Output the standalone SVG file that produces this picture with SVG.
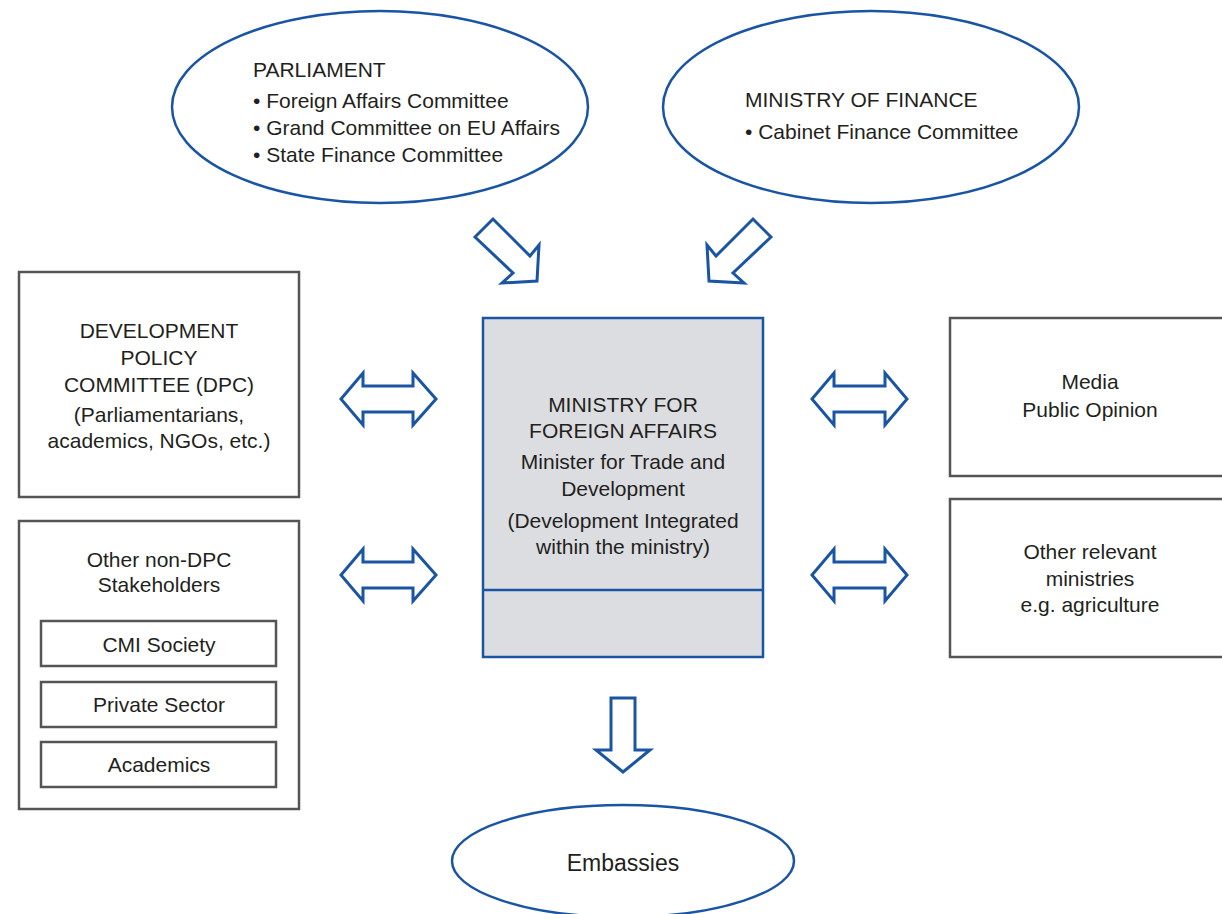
<svg xmlns="http://www.w3.org/2000/svg" width="1222" height="914" viewBox="0 0 1222 914">
  <style>
    .t { font-family: "Liberation Sans", Arial, sans-serif; font-size: 21px; fill: #231f20; }
    .c { text-anchor: middle; }
    .ell { fill: #ffffff; stroke: #1a55a3; stroke-width: 2.5; }
    .box { fill: #ffffff; stroke: #555555; stroke-width: 2.5; }
    .main { fill: #dcdde0; stroke: #1a55a3; stroke-width: 2.5; }
    .arr { fill: #ffffff; stroke: #1a55a3; stroke-width: 3; stroke-linejoin: miter; }
  </style>
  <rect width="1222" height="914" fill="#ffffff"/>

  <!-- Parliament -->
  <g id="parliament">
    <ellipse class="ell" cx="380" cy="107" rx="208" ry="96"/>
    <text class="t" x="253" y="77">PARLIAMENT</text>
    <text class="t" x="253" y="108">• Foreign Affairs Committee</text>
    <text class="t" x="253" y="135">• Grand Committee on EU Affairs</text>
    <text class="t" x="253" y="162">• State Finance Committee</text>
  </g>

  <!-- Ministry of Finance -->
  <g id="finance">
    <ellipse class="ell" cx="871" cy="107" rx="208" ry="96"/>
    <text class="t" x="745" y="107">MINISTRY OF FINANCE</text>
    <text class="t" x="745" y="139">• Cabinet Finance Committee</text>
  </g>

  <!-- Development Policy Committee -->
  <g id="dpc">
    <rect class="box" x="19" y="272" width="280" height="225"/>
    <text class="t c" x="159" y="338">DEVELOPMENT</text>
    <text class="t c" x="159" y="365">POLICY</text>
    <text class="t c" x="159" y="392">COMMITTEE (DPC)</text>
    <text class="t c" x="159" y="422">(Parliamentarians,</text>
    <text class="t c" x="159" y="448">academics, NGOs, etc.)</text>
  </g>

  <!-- Other stakeholders -->
  <g id="stakeholders">
    <rect class="box" x="19" y="521" width="280" height="288"/>
    <text class="t c" x="159" y="567">Other non-DPC</text>
    <text class="t c" x="159" y="592">Stakeholders</text>
    <rect class="box" x="41" y="621" width="235" height="45"/>
    <text class="t c" x="159" y="652">CMI Society</text>
    <rect class="box" x="41" y="682" width="235" height="45"/>
    <text class="t c" x="159" y="712">Private Sector</text>
    <rect class="box" x="41" y="742" width="235" height="45"/>
    <text class="t c" x="159" y="772">Academics</text>
  </g>

  <!-- Ministry for Foreign Affairs -->
  <g id="mfa">
    <rect class="main" x="483" y="318" width="280" height="339"/>
    <line x1="483" y1="590" x2="763" y2="590" stroke="#1a55a3" stroke-width="2.5"/>
    <text class="t c" x="623" y="412">MINISTRY FOR</text>
    <text class="t c" x="623" y="438">FOREIGN AFFAIRS</text>
    <text class="t c" x="623" y="469">Minister for Trade and</text>
    <text class="t c" x="623" y="496">Development</text>
    <text class="t c" x="623" y="528">(Development Integrated</text>
    <text class="t c" x="623" y="554">within the ministry)</text>
  </g>

  <!-- Media -->
  <g id="media">
    <rect class="box" x="950" y="318" width="290" height="158"/>
    <text class="t c" x="1090" y="389">Media</text>
    <text class="t c" x="1090" y="417">Public Opinion</text>
  </g>

  <!-- Other ministries -->
  <g id="ministries">
    <rect class="box" x="950" y="499" width="290" height="158"/>
    <text class="t c" x="1090" y="559">Other relevant</text>
    <text class="t c" x="1090" y="586">ministries</text>
    <text class="t c" x="1090" y="612">e.g. agriculture</text>
  </g>

  <!-- Embassies -->
  <g id="embassies">
    <ellipse class="ell" cx="623" cy="861" rx="171" ry="56"/>
    <text class="t c" x="623" y="871" style="font-size:23px">Embassies</text>
  </g>

  <!-- Block arrows -->
  <g id="connectors">
    <polygon class="arr" points="475,237 493,219 530,256 539,245 537,281 502,283 513,273"/>
    <polygon class="arr" points="771,237 753,219 716,256 707,245 709,281 744,283 733,273"/>
    <polygon class="arr" points="341,399 363,373 363,386 413,386 413,373 436,399 413,425 413,412 363,412 363,425"/>
    <polygon class="arr" points="341,575 363,549 363,562 413,562 413,549 436,575 413,601 413,588 363,588 363,601"/>
    <polygon class="arr" points="812,399 834,373 834,386 885,386 885,373 907,399 885,425 885,412 834,412 834,425"/>
    <polygon class="arr" points="812,575 834,549 834,562 885,562 885,549 907,575 885,601 885,588 834,588 834,601"/>
    <polygon class="arr" points="611,698 635,698 635,750 650,750 623,772 596,750 611,750"/>
  </g>
</svg>
